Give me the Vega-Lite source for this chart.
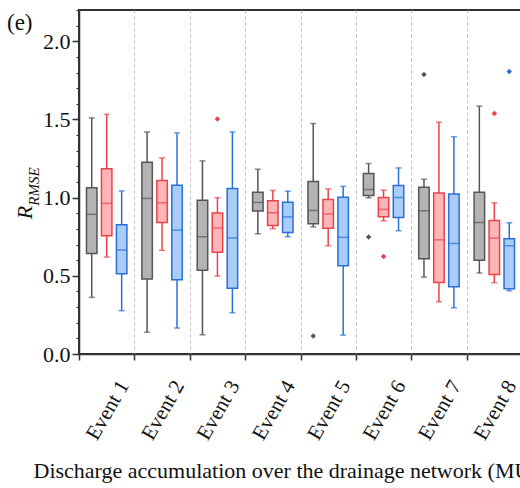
{
  "$schema": "https://vega.github.io/schema/vega-lite/v6.json",
  "autosize": {"type": "none"},
  "padding": {"left": 79, "top": 10, "right": 0, "bottom": 134},
  "width": 443,
  "height": 344,
  "background": "white",
  "title": {"text": "(e)", "anchor": "start", "frame": "group", "orient": "top", "font": "Liberation Serif", "fontSize": 23, "fontWeight": "normal", "color": "#111", "baseline": "alphabetic", "offset": 0, "dx": -72, "dy": 44},
  "datasets": {
    "boxes": [
      {"event": "Event 1", "model": "A", "lo": 0.362, "q1": 0.643, "med": 0.893, "q3": 1.063, "hi": 1.51},
      {"event": "Event 1", "model": "B", "lo": 0.62, "q1": 0.756, "med": 0.963, "q3": 1.184, "hi": 1.533},
      {"event": "Event 1", "model": "C", "lo": 0.277, "q1": 0.513, "med": 0.665, "q3": 0.826, "hi": 1.043},
      {"event": "Event 2", "model": "A", "lo": 0.139, "q1": 0.479, "med": 0.995, "q3": 1.227, "hi": 1.42},
      {"event": "Event 2", "model": "B", "lo": 0.663, "q1": 0.841, "med": 0.967, "q3": 1.11, "hi": 1.254},
      {"event": "Event 2", "model": "C", "lo": 0.166, "q1": 0.475, "med": 0.792, "q3": 1.08, "hi": 1.414},
      {"event": "Event 3", "model": "A", "lo": 0.123, "q1": 0.535, "med": 0.75, "q3": 0.984, "hi": 1.235},
      {"event": "Event 3", "model": "B", "lo": 0.498, "q1": 0.65, "med": 0.805, "q3": 0.901, "hi": 0.999},
      {"event": "Event 3", "model": "C", "lo": 0.264, "q1": 0.42, "med": 0.743, "q3": 1.059, "hi": 1.42},
      {"event": "Event 4", "model": "A", "lo": 0.769, "q1": 0.914, "med": 0.969, "q3": 1.035, "hi": 1.182},
      {"event": "Event 4", "model": "B", "lo": 0.801, "q1": 0.822, "med": 0.903, "q3": 0.98, "hi": 1.046},
      {"event": "Event 4", "model": "C", "lo": 0.75, "q1": 0.777, "med": 0.877, "q3": 0.971, "hi": 1.042},
      {"event": "Event 5", "model": "A", "lo": 0.813, "q1": 0.833, "med": 0.918, "q3": 1.103, "hi": 1.474},
      {"event": "Event 5", "model": "B", "lo": 0.692, "q1": 0.805, "med": 0.895, "q3": 0.988, "hi": 1.056},
      {"event": "Event 5", "model": "C", "lo": 0.121, "q1": 0.564, "med": 0.746, "q3": 1.003, "hi": 1.072},
      {"event": "Event 6", "model": "A", "lo": 0.999, "q1": 1.014, "med": 1.052, "q3": 1.155, "hi": 1.218},
      {"event": "Event 6", "model": "B", "lo": 0.852, "q1": 0.877, "med": 0.925, "q3": 1.001, "hi": 1.048},
      {"event": "Event 6", "model": "C", "lo": 0.788, "q1": 0.873, "med": 1.001, "q3": 1.078, "hi": 1.19},
      {"event": "Event 7", "model": "A", "lo": 0.492, "q1": 0.609, "med": 0.916, "q3": 1.067, "hi": 1.118},
      {"event": "Event 7", "model": "B", "lo": 0.334, "q1": 0.458, "med": 0.73, "q3": 1.029, "hi": 1.482},
      {"event": "Event 7", "model": "C", "lo": 0.296, "q1": 0.43, "med": 0.707, "q3": 1.024, "hi": 1.389},
      {"event": "Event 8", "model": "A", "lo": 0.518, "q1": 0.599, "med": 0.841, "q3": 1.035, "hi": 1.585},
      {"event": "Event 8", "model": "B", "lo": 0.456, "q1": 0.509, "med": 0.741, "q3": 0.854, "hi": 0.967},
      {"event": "Event 8", "model": "C", "lo": 0.404, "q1": 0.417, "med": 0.692, "q3": 0.737, "hi": 0.839}
    ],
    "outliers": [
      {"event": "Event 3", "model": "B", "value": 1.503},
      {"event": "Event 5", "model": "A", "value": 0.115},
      {"event": "Event 6", "model": "A", "value": 0.748},
      {"event": "Event 6", "model": "B", "value": 0.624},
      {"event": "Event 7", "model": "A", "value": 1.787},
      {"event": "Event 8", "model": "B", "value": 1.538},
      {"event": "Event 8", "model": "C", "value": 1.806}
    ]
  },
  "resolve": {"axis": {"y": "independent"}},
  "layer": [
    {
      "data": {"name": "boxes"},
      "mark": {"type": "rule", "strokeWidth": 1.5},
      "encoding": {
        "x": {"field": "event", "type": "nominal", "sort": null,
          "scale": {"paddingInner": 0, "paddingOuter": 0},
          "title": "Discharge accumulation over the drainage network (MU)"},
        "xOffset": {"field": "model", "type": "nominal", "scale": {"domain": ["A", "B", "C"], "paddingInner": 0.3, "paddingOuter": 0.5}},
        "y": {"field": "lo", "type": "quantitative", "scale": {"domain": [0, 2.2], "nice": false, "zero": false},
          "axis": {"orient": "left", "values": [0, 0.5, 1, 1.5, 2], "format": ".1f", "grid": false, "ticks": true, "domain": true, "labelFont": "Liberation Serif", "labelFontSize": 22, "labelColor": "#111", "labelPadding": 2, "tickSize": 7, "tickWidth": 1.5, "tickColor": "#333333", "domainColor": "#333333", "domainWidth": 1.5,
            "title": "R", "titleFont": "Liberation Serif", "titleFontStyle": "italic", "titleFontWeight": "normal", "titleFontSize": 22, "titleColor": "#111", "titleAngle": -90, "titleAlign": "center", "titleBaseline": "alphabetic", "titleX": -48, "titleY": 202}},
        "y2": {"field": "hi"},
        "color": {"field": "model", "type": "nominal", "scale": {"domain": ["A", "B", "C"], "range": ["#555555", "#e8434a", "#2b6fd8"]}, "legend": null}
      }
    },
    {
      "data": {"name": "boxes"},
      "mark": {"type": "tick", "size": 6, "thickness": 1.5},
      "encoding": {
        "x": {"field": "event", "type": "nominal", "sort": null, "title": "Discharge accumulation over the drainage network (MU)"},
        "xOffset": {"field": "model", "type": "nominal"},
        "y": {"field": "lo", "type": "quantitative",
          "axis": {"orient": "left", "values": [0, 0.1, 0.2, 0.3, 0.4, 0.5, 0.6, 0.7, 0.8, 0.9, 1.0, 1.1, 1.2, 1.3, 1.4, 1.5, 1.6, 1.7, 1.8, 1.9, 2.0, 2.1, 2.2], "labels": false, "grid": false, "domain": false, "ticks": true, "tickSize": 3, "tickWidth": 1.2, "tickColor": "#333333",
            "title": "RMSE", "titleFont": "Liberation Serif", "titleFontStyle": "italic", "titleFontWeight": "normal", "titleFontSize": 15, "titleColor": "#111", "titleAngle": -90, "titleAlign": "center", "titleBaseline": "alphabetic", "titleX": -41, "titleY": 176}},
        "color": {"field": "model", "type": "nominal", "legend": null}
      }
    },
    {
      "data": {"name": "boxes"},
      "mark": {"type": "tick", "size": 6, "thickness": 1.5},
      "encoding": {
        "x": {"field": "event", "type": "nominal", "sort": null, "title": "Discharge accumulation over the drainage network (MU)"},
        "xOffset": {"field": "model", "type": "nominal"},
        "y": {"field": "hi", "type": "quantitative", "axis": null},
        "color": {"field": "model", "type": "nominal", "legend": null}
      }
    },
    {
      "data": {"name": "boxes"},
      "mark": {"type": "bar", "strokeWidth": 1.5},
      "encoding": {
        "x": {"field": "event", "type": "nominal", "sort": null, "title": "Discharge accumulation over the drainage network (MU)"},
        "xOffset": {"field": "model", "type": "nominal"},
        "y": {"field": "q1", "type": "quantitative", "axis": null},
        "y2": {"field": "q3"},
        "fill": {"field": "model", "type": "nominal", "scale": {"domain": ["A", "B", "C"], "range": ["#b4b4b4", "#ffb5b7", "#a9cdf7"]}, "legend": null},
        "stroke": {"field": "model", "type": "nominal", "scale": {"domain": ["A", "B", "C"], "range": ["#555555", "#e8434a", "#2b6fd8"]}, "legend": null}
      }
    },
    {
      "data": {"name": "boxes"},
      "mark": {"type": "tick", "size": 10.5, "thickness": 1.5},
      "encoding": {
        "x": {"field": "event", "type": "nominal", "sort": null, "title": "Discharge accumulation over the drainage network (MU)"},
        "xOffset": {"field": "model", "type": "nominal"},
        "y": {"field": "med", "type": "quantitative", "axis": null},
        "color": {"field": "model", "type": "nominal", "legend": null}
      }
    },
    {
      "data": {"name": "outliers"},
      "mark": {"type": "point", "shape": "diamond", "filled": true, "size": 30, "opacity": 1},
      "encoding": {
        "x": {"field": "event", "type": "nominal", "sort": null, "title": "Discharge accumulation over the drainage network (MU)"},
        "xOffset": {"field": "model", "type": "nominal"},
        "y": {"field": "value", "type": "quantitative", "axis": null},
        "color": {"field": "model", "type": "nominal", "scale": {"domain": ["A", "B", "C"], "range": ["#555555", "#e8434a", "#2b6fd8"]}, "legend": null}
      }
    }
  ],
  "config": {
    "view": {"stroke": "#333", "strokeWidth": 2},
    "axisX": {"titleFont": "Liberation Serif", "titleFontSize": 22, "titleFontWeight": "normal", "titleColor": "#111", "titleAnchor": "start", "titleAlign": "left", "titleBaseline": "alphabetic", "titleX": -46, "titleY": 123,
      "labelAngle": -60, "labelAlign": "right", "labelBaseline": "middle", "labelOffset": 17, "labelPadding": 22, "labelFont": "Liberation Serif", "labelFontSize": 21, "labelColor": "#111",
      "tickBand": "extent", "ticks": true, "tickSize": 6, "tickWidth": 1.5, "tickColor": "#333333", "domainColor": "#333333", "domainWidth": 1.5,
      "grid": true, "gridColor": "#bbbbbb", "gridDash": [3, 3], "gridWidth": 1}
  }
}
